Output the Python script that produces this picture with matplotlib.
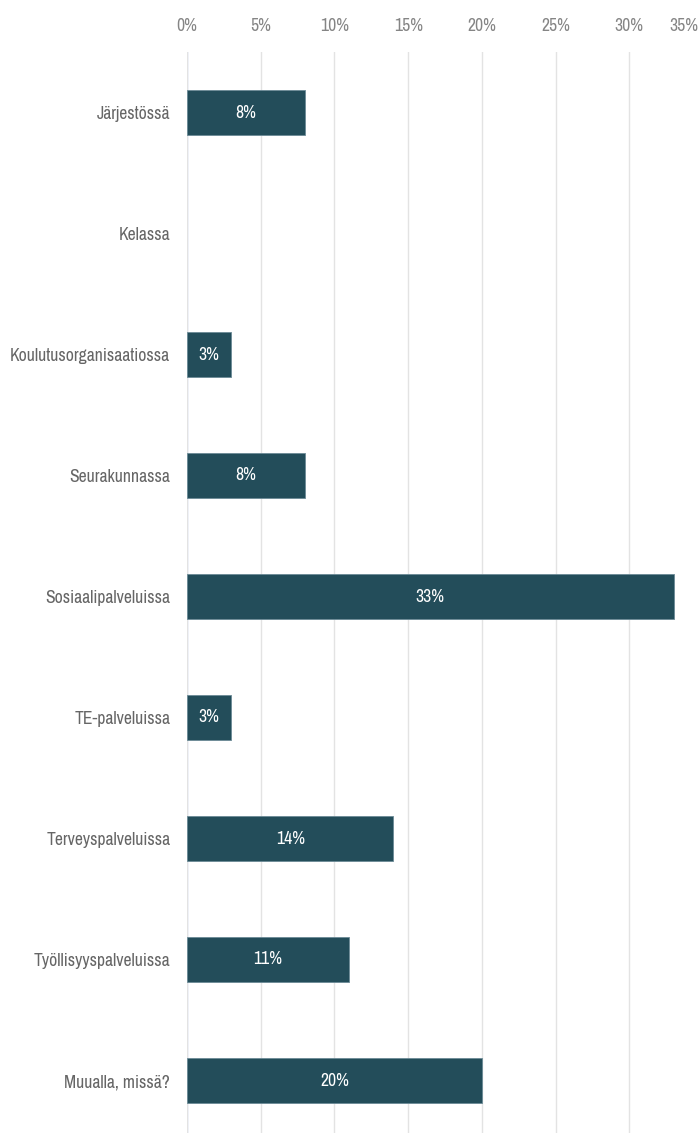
import matplotlib.pyplot as plt
from matplotlib.ticker import FuncFormatter
import matplotlib.transforms as mtransforms

plt.rcParams['font.family'] = ['Archivo Narrow', 'Liberation Sans', 'DejaVu Sans']

categories = ['Järjestössä', 'Kelassa', 'Koulutusorganisaatiossa', 'Seurakunnassa',
              'Sosiaalipalveluissa', 'TE-palveluissa', 'Terveyspalveluissa',
              'Työllisyyspalveluissa', 'Muualla, missä?']
values = [8, 0, 3, 8, 33, 3, 14, 11, 20]
ticks = [0, 5, 10, 15, 20, 25, 30, 35]

W, H = 699, 1133
fig = plt.figure(figsize=(W / 100, H / 100), dpi=100)
# plot area: left edge 187 px, top 52 px, extends a little past the bottom/right
ax = fig.add_axes([187 / W, (H - 1141) / H, (703 - 187) / W, (1141 - 52) / H])

ypos = list(range(len(categories)))
bars = ax.barh(ypos, values, height=0.38, color='#234d5a',
               edgecolor='#6b8a96', linewidth=0.6, zorder=3)
for b, v in zip(bars, values):
    if v > 0:
        ax.text(v / 2, b.get_y() + b.get_height() / 2, '{}%'.format(v),
                ha='center', va='center', color='white', fontsize=12.7, zorder=4)
    else:
        b.set_visible(False)

ax.set_ylim(len(categories) - 0.5, -0.5)
ax.set_yticks(ypos)
ax.set_yticklabels(categories)
ax.set_xlim(0, 35)
ax.set_xticks(ticks)
ax.xaxis.set_major_formatter(FuncFormatter(lambda x, p: '{:.0f}%'.format(x)))
ax.xaxis.tick_top()

ax.tick_params(axis='x', length=0, pad=13, labelsize=12.7, labelcolor='#858585')
ax.tick_params(axis='y', length=0, pad=12, labelsize=12.7, labelcolor='#666666')

ax.grid(axis='x', color='#e3e3e3', linewidth=1, zorder=0)
ax.axvline(0, color='#c3cdf2', linewidth=1, zorder=1)
for s in ax.spines.values():
    s.set_visible(False)

# keep the last tick label inside the figure
last = ax.get_xticklabels()[-1]
last.set_transform(last.get_transform() + mtransforms.ScaledTranslation(-19 / 100, 0, fig.dpi_scale_trans))

fig.savefig('out.png', dpi=100)
